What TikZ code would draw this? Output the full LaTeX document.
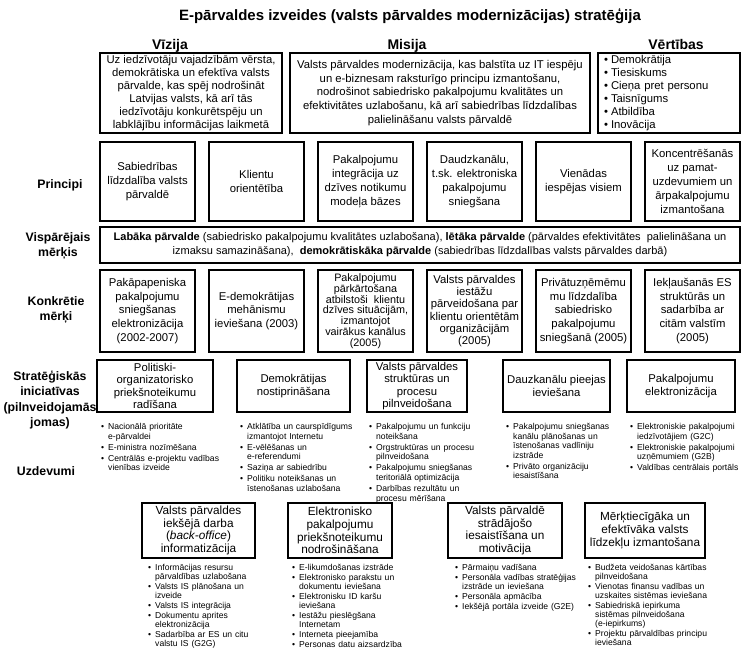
\documentclass[tikz,border=0pt]{standalone}
\usepackage{fontspec}
\setmainfont{Liberation Sans}
\usetikzlibrary{positioning}

\newlength{\itmgap}
\setlength{\itmgap}{1.5pt}
\newcommand{\itm}[1]{\hangindent=7pt\hangafter=1\makebox[7pt][l]{\textbullet}#1\par\vspace{\itmgap}}

\begin{document}
\begin{tikzpicture}[x=1pt,y=-1pt,
    box/.style={draw,line width=2.4pt,align=center,inner sep=2pt,
      font=\fontsize{11.3}{13.8}\selectfont},
    initbox/.style={box,inner sep=1pt,font=\fontsize{11.3}{12.2}\selectfont},
    head/.style={anchor=base,font=\fontsize{14}{16}\selectfont\bfseries},
    rowlabel/.style={font=\fontsize{12.3}{15.5}\selectfont\bfseries,align=center},
    tasks/.style={anchor=north west,align=left,inner sep=0pt,text width=150pt,
      font=\fontsize{8.6}{9.6}\selectfont}]
  \fill[white] (0,0) rectangle (750,657);
  \useasboundingbox (0,0) rectangle (750,657);

  % title and headings
  \node[font=\fontsize{15}{18}\selectfont\bfseries] (title) at (410,16)
    {E-pārvaldes izveides (valsts pārvaldes modernizācijas) stratēģija};
  \node[head] (hviz) at (170,49) {Vīzija};
  \node[head] (hmis) at (407,49) {Misija};
  \node[head] (hvert) at (676,49) {Vērtības};

  % row labels
  \node[rowlabel] (lprinc) at (60,185) {Principi};
  \node[rowlabel] (lvisp) at (58,246) {Vispārējais\\mērķis};
  \node[rowlabel] (lkonk) at (56,310) {Konkrētie\\mērķi};
  \node[rowlabel] (lstrat) at (50,400) {Stratēģiskās\\iniciatīvas\\(pilnveidojamās\\jomas)};
  \node[rowlabel] (luzd) at (46,471) {Uzdevumi};

  % vision, mission, values
  \node[box,minimum width=182,minimum height=80,font=\fontsize{11.3}{13}\selectfont] (vizija) at (191,93)
    {Uz iedzīvotāju vajadzībām vērsta,\\demokrātiska un efektīva valsts\\pārvalde, kas spēj nodrošināt\\Latvijas valsts, kā arī tās\\iedzīvotāju konkurētspēju un\\labklājību informācijas laikmetā};
  \node[box,minimum width=300,minimum height=80] (misija) at (440,93)
    {Valsts pārvaldes modernizācija, kas balstīta uz IT iespēju\\un e-biznesam raksturīgo principu izmantošanu,\\nodrošinot sabiedrisko pakalpojumu kvalitātes un\\efektivitātes uzlabošanu, kā arī sabiedrības līdzdalības\\palielināšanu valsts pārvaldē};
  \node[box,minimum width=142,minimum height=80,text width=130,align=left,font=\fontsize{11.3}{13}\selectfont] (vertibas) at (669,93)
    {\setlength{\itmgap}{0pt}\itm{Demokrātija}\itm{Tiesiskums}\itm{Cieņa pret personu}\itm{Taisnīgums}\itm{Atbildība}\itm{Inovācija}};

  % principles
  \node[box,minimum width=95,minimum height=79] (p1) at (147.5,181.5) {Sabiedrības\\līdzdalība valsts\\pārvaldē};
  \node[box,minimum width=95,minimum height=79] (p2) at (256.5,181.5) {Klientu\\orientētība};
  \node[box,minimum width=95,minimum height=79] (p3) at (365.5,181.5) {Pakalpojumu\\integrācija uz\\dzīves notikumu\\modeļa bāzes};
  \node[box,minimum width=95,minimum height=79] (p4) at (474.5,181.5) {Daudzkanālu,\\t.sk. elektroniska\\pakalpojumu\\sniegšana};
  \node[box,minimum width=95,minimum height=79] (p5) at (583.5,181.5) {Vienādas\\iespējas visiem};
  \node[box,minimum width=95,minimum height=79] (p6) at (692.5,181.5) {Koncentrēšanās\\uz pamat-\\uzdevumiem un\\ārpakalpojumu\\izmantošana};

  % general goal
  \node[box,minimum width=640,minimum height=36,font=\fontsize{11}{14}\selectfont] (visp) at (420,245)
    {\textbf{Labāka pārvalde} (sabiedrisko pakalpojumu kvalitātes uzlabošana), \textbf{lētāka pārvalde} (pārvaldes efektivitātes\ \ palielināšana un\\izmaksu samazināšana),\ \ \textbf{demokrātiskāka pārvalde} (sabiedrības līdzdalības valsts pārvaldes darbā)};

  % concrete goals
  \node[box,minimum width=95,minimum height=82] (k1) at (147.5,311) {Pakāpapeniska\\pakalpojumu\\sniegšanas\\elektronizācija\\(2002-2007)};
  \node[box,minimum width=95,minimum height=82] (k2) at (256.5,311) {E-demokrātijas\\mehānismu\\ieviešana (2003)};
  \node[box,minimum width=95,minimum height=82,inner sep=1pt,font=\fontsize{10.8}{10.8}\selectfont] (k3) at (365.5,311) {Pakalpojumu\\pārkārtošana\\atbilstoši\ \ klientu\\dzīves situācijām,\\izmantojot\\vairākus kanālus\\(2005)};
  \node[box,minimum width=95,minimum height=82,inner sep=1pt,font=\fontsize{11.3}{12.3}\selectfont] (k4) at (474.5,311) {Valsts pārvaldes\\iestāžu\\pārveidošana par\\klientu orientētām\\organizācijām\\(2005)};
  \node[box,minimum width=95,minimum height=82] (k5) at (583.5,311) {Privātuzņēmēmu\\mu līdzdalība\\sabiedrisko\\pakalpojumu\\sniegšanā (2005)};
  \node[box,minimum width=95,minimum height=82] (k6) at (692.5,311) {Iekļaušanās ES\\struktūrās un\\sadarbība ar\\citām valstīm\\(2005)};

  % strategic initiatives
  \node[initbox,minimum width=116,minimum height=52] (s1) at (155,386) {Politiski-\\organizatorisko\\priekšnoteikumu\\radīšana};
  \node[initbox,minimum width=113,minimum height=52] (s2) at (293.5,386) {Demokrātijas\\nostiprināšana};
  \node[initbox,minimum width=100,minimum height=52] (s3) at (417,386) {Valsts pārvaldes\\struktūras un\\procesu\\pilnveidošana};
  \node[initbox,minimum width=107,minimum height=52] (s4) at (556.5,386) {Dauzkanālu pieejas\\ieviešana};
  \node[initbox,minimum width=108,minimum height=52] (s5) at (681,386) {Pakalpojumu\\elektronizācija};

  \node[tasks] (st1) at (101,423) {\itm{Nacionālā prioritāte\newline e-pārvaldei}\itm{E-ministra nozīmēšana}\itm{Centrālās e-projektu vadības\newline vienības izveide}};
  \node[tasks] (st2) at (240,423) {\itm{Atklātība un caurspīdīgums\newline izmantojot Internetu}\itm{E-vēlēšanas un\newline e-referendumi}\itm{Saziņa ar sabiedrību}\itm{Politiku noteikšanas un\newline īstenošanas uzlabošana}};
  \node[tasks] (st3) at (369,423) {\itm{Pakalpojumu un funkciju\newline noteikšana}\itm{Orgstruktūras un procesu\newline pilnveidošana}\itm{Pakalpojumu sniegšanas\newline teritoriālā optimizācija}\itm{Darbības rezultātu un\newline procesu mērīšana}};
  \node[tasks] (st4) at (506,423) {\itm{Pakalpojumu sniegšanas\newline kanālu plānošanas un\newline īstenošanas vadlīniju\newline izstrāde}\itm{Privāto organizāciju\newline iesaistīšana}};
  \node[tasks] (st5) at (630,423) {\itm{Elektroniskie pakalpojumi\newline iedzīvotājiem (G2C)}\itm{Elektroniskie pakalpojumi\newline uzņēmumiem (G2B)}\itm{Valdības centrālais portāls}};

  % tasks
  \node[initbox,font=\fontsize{11.8}{12.8}\selectfont,minimum width=113,minimum height=55] (u1) at (198.5,530.5) {Valsts pārvaldes\\iekšējā darba\\(\textit{back-office})\\informatizācija};
  \node[initbox,font=\fontsize{11.8}{12.8}\selectfont,minimum width=104,minimum height=55] (u2) at (340,530.5) {Elektronisko\\pakalpojumu\\priekšnoteikumu\\nodrošināšana};
  \node[initbox,font=\fontsize{11.8}{12.8}\selectfont,minimum width=114,minimum height=55] (u3) at (505,530.5) {Valsts pārvaldē\\strādājošo\\iesaistīšana un\\motivācija};
  \node[initbox,font=\fontsize{11.8}{12.8}\selectfont,minimum width=120,minimum height=55] (u4) at (645,530.5) {Mērķtiecīgāka un\\efektīvāka valsts\\līdzekļu izmantošana};

  \node[tasks,font=\fontsize{8.6}{9}\selectfont] (ut1) at (148,564) {\setlength{\itmgap}{1pt}\itm{Informācijas resursu\newline pārvaldības uzlabošana}\itm{Valsts IS plānošana un\newline izveide}\itm{Valsts IS integrācija}\itm{Dokumentu aprites\newline elektronizācija}\itm{Sadarbība ar ES un citu\newline valstu IS (G2G)}};
  \node[tasks,font=\fontsize{8.6}{9}\selectfont] (ut2) at (292,564) {\setlength{\itmgap}{1pt}\itm{E-likumdošanas izstrāde}\itm{Elektronisko parakstu un\newline dokumentu ieviešana}\itm{Elektronisku ID karšu\newline ieviešana}\itm{Iestāžu pieslēgšana\newline Internetam}\itm{Interneta pieejamība}\itm{Personas datu aizsardzība}};
  \node[tasks,font=\fontsize{8.6}{9}\selectfont] (ut3) at (455,564) {\setlength{\itmgap}{1pt}\itm{Pārmaiņu vadīšana}\itm{Personāla vadības stratēģijas\newline izstrāde un ieviešana}\itm{Personāla apmācība}\itm{Iekšējā portāla izveide (G2E)}};
  \node[tasks,font=\fontsize{8.6}{9}\selectfont] (ut4) at (588,564) {\setlength{\itmgap}{1pt}\itm{Budžeta veidošanas kārtības\newline pilnveidošana}\itm{Vienotas finansu vadības un\newline uzskaites sistēmas ieviešana}\itm{Sabiedriskā iepirkuma\newline sistēmas pilnveidošana\newline (e-iepirkums)}\itm{Projektu pārvaldības principu\newline ieviešana}};
\end{tikzpicture}
\end{document}
